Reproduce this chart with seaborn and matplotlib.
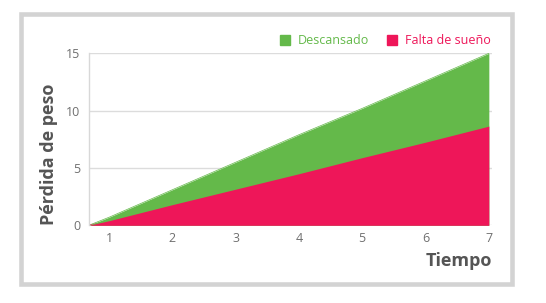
import matplotlib
matplotlib.use("Agg")
import matplotlib.pyplot as plt
from matplotlib.patches import Rectangle
from matplotlib.lines import Line2D
import seaborn as sns
import pandas as pd

# Data
tiempo = [0.68, 1, 2, 3, 4, 5, 6, 7]
descansado = [0.0, 0.7, 3.1, 5.5, 7.9, 10.2, 12.6, 15.0]
falta_sueno = [0.0, 0.4, 1.8, 3.15, 4.5, 5.9, 7.25, 8.65]
x_ticks = [1, 2, 3, 4, 5, 6, 7]
y_ticks = [0, 5, 10, 15]
series_names = ["Descansado", "Falta de sueño"]
colors = ["#64b94a", "#ee1659"]

df = pd.DataFrame({"Tiempo": tiempo, "Descansado": descansado, "Falta de sueño": falta_sueno})
long = df.melt(id_vars="Tiempo", var_name="serie", value_name="valor")

sns.set_theme(style="white")
plt.rcParams["font.family"] = ["Open Sans", "DejaVu Sans"]

fig = plt.figure(figsize=(5.46, 3.03), dpi=100)
ax = fig.add_axes([0.1625, 0.2564, 0.9011 - 0.1625, 0.824 - 0.2564])

sns.lineplot(data=long, x="Tiempo", y="valor", hue="serie", palette=colors,
             hue_order=series_names, ax=ax, legend=False, linewidth=0.5)
for name, c in zip(series_names, colors):
    ax.fill_between(df["Tiempo"], 0, df[name], color=c, linewidth=0, zorder=2)

ax.set_xlim(0.68, 7.05)
ax.set_ylim(0, 15)
ax.set_xticks(x_ticks)
ax.set_yticks(y_ticks)
ax.tick_params(axis="both", length=0, labelsize=9, labelcolor="#6f6f6f")
ax.tick_params(axis="x", pad=5)
ax.tick_params(axis="y", pad=6)
ax.grid(axis="y", color="#dcdcdc", linewidth=1, zorder=0)
ax.set_axisbelow(True)
for s in ["top", "right", "bottom"]:
    ax.spines[s].set_visible(False)
ax.spines["left"].set_color("#d8d8d8")
ax.spines["left"].set_linewidth(1)

ax.set_ylabel("Pérdida de peso", fontsize=13, fontweight="bold", color="#555555")
ax.yaxis.set_label_coords(-0.077, 0.0)
ax.yaxis.label.set_horizontalalignment("left")
ax.set_xlabel("Tiempo", fontsize=13, fontweight="bold", color="#555555")
ax.xaxis.set_label_coords(1.0, -0.155)
ax.xaxis.label.set_horizontalalignment("right")

handles = [Line2D([0], [0], marker="s", linestyle="none", markersize=7,
                  markerfacecolor=c, markeredgecolor=c) for c in colors]
leg = ax.legend(handles, series_names, loc="lower right", bbox_to_anchor=(1.012, 1.0),
                ncol=2, frameon=False, fontsize=9, handlelength=0.8, handletextpad=0.6,
                columnspacing=1.5, borderaxespad=0.3, borderpad=0.2)
for t, c in zip(leg.get_texts(), colors):
    t.set_color(c)

fig.patches.append(Rectangle((20.5 / 546, (303 - 284) / 303), (512 - 20.5) / 546,
                             (284 - 14.3) / 303, transform=fig.transFigure,
                             fill=False, edgecolor="#d3d3d3", linewidth=3.3))

fig.savefig("out.png", dpi=100)
